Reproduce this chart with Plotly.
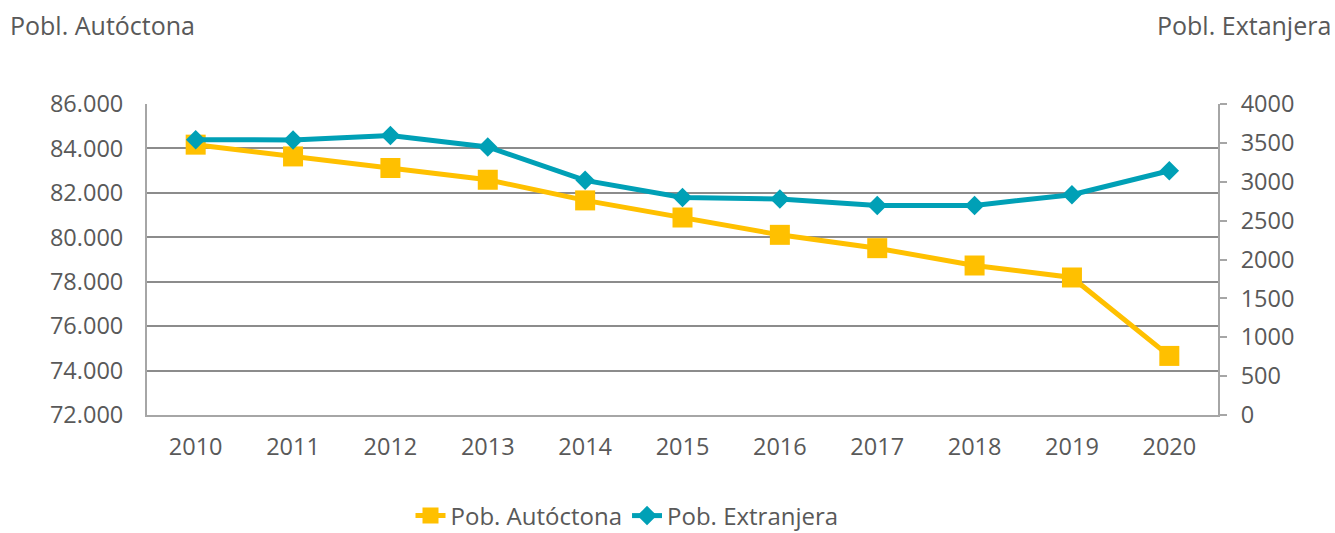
import plotly.graph_objects as go

years = ["2010", "2011", "2012", "2013", "2014", "2015", "2016", "2017", "2018", "2019", "2020"]
autoctona = [84170, 83640, 83120, 82590, 81660, 80890, 80110, 79510, 78730, 78190, 74660]
extranjera = [3541, 3538, 3596, 3447, 3018, 2799, 2778, 2696, 2696, 2834, 3142]

left_ticks = [72000, 74000, 76000, 78000, 80000, 82000, 84000, 86000]
right_ticks = [0, 500, 1000, 1500, 2000, 2500, 3000, 3500, 4000]

YELLOW = "#FFC000"
TEAL = "#00A0B6"
TXT = "#595959"
GRID = "#8C8C8C"
AXIS = "#A6A6A6"
FONT = "Open Sans"

L, R, T, B = 147, 117, 104, 118
PW, PH = 1335 - L - R, 533 - T - B

fig = go.Figure()
fig.add_trace(go.Scatter(
    x=years, y=autoctona, name="Pob. Autóctona", mode="lines+markers",
    line=dict(color=YELLOW, width=5),
    marker=dict(symbol="square", size=20, color=YELLOW),
    yaxis="y",
))
fig.add_trace(go.Scatter(
    x=years, y=extranjera, name="Pob. Extranjera", mode="lines+markers",
    line=dict(color=TEAL, width=5),
    marker=dict(symbol="diamond", size=15, color=TEAL),
    yaxis="y2",
))

fig.update_layout(
    width=1335, height=533,
    margin=dict(l=L, r=R, t=T, b=B, autoexpand=False),
    paper_bgcolor="white", plot_bgcolor="white",
    separators=",.",
    font=dict(family=FONT, size=23, color=TXT),
    showlegend=True,
    legend=dict(orientation="h", x=(627 - L) / PW, xanchor="center",
                y=-(516 - (T + PH)) / PH, yanchor="middle",
                font=dict(size=24, color=TXT), tracegroupgap=0),
    xaxis=dict(
        type="category", range=[-0.5, 10.5],
        showline=True, linecolor=AXIS, linewidth=2, mirror=False,
        showgrid=False, ticks="", ticklabelstandoff=10,
        tickfont=dict(size=23.5, color=TXT),
    ),
    yaxis=dict(
        range=[72000, 86000], tickvals=left_ticks, tickformat=",.0f",
        showgrid=True, gridcolor=GRID, gridwidth=2,
        showline=True, linecolor=AXIS, linewidth=2,
        ticks="", ticklabelstandoff=17, zeroline=False,
        tickfont=dict(size=23.5, color=TXT),
    ),
    yaxis2=dict(
        overlaying="y", side="right",
        range=[0, 4000], tickvals=right_ticks, tickformat="d",
        showgrid=False, showline=True, linecolor=AXIS, linewidth=2,
        ticks="outside", ticklen=7, tickwidth=2, tickcolor=AXIS,
        ticklabelstandoff=9, zeroline=False,
        tickfont=dict(size=23.5, color=TXT),
    ),
    annotations=[
        dict(text="Pobl. Autóctona", xref="paper", yref="paper",
             x=-(L - 8) / PW, y=1 + (T - 25) / PH, xanchor="left", yanchor="middle",
             showarrow=False, font=dict(size=25, color=TXT)),
        dict(text="Pobl. Extanjera", xref="paper", yref="paper",
             x=1 + (1333 - (L + PW)) / PW, y=1 + (T - 25) / PH, xanchor="right", yanchor="middle",
             showarrow=False, font=dict(size=25, color=TXT)),
    ],
)

fig.write_html(
    "out.html",
    config={"displayModeBar": False},
    post_script="document.body.style.margin='0px';document.body.style.overflow='hidden';",
)
